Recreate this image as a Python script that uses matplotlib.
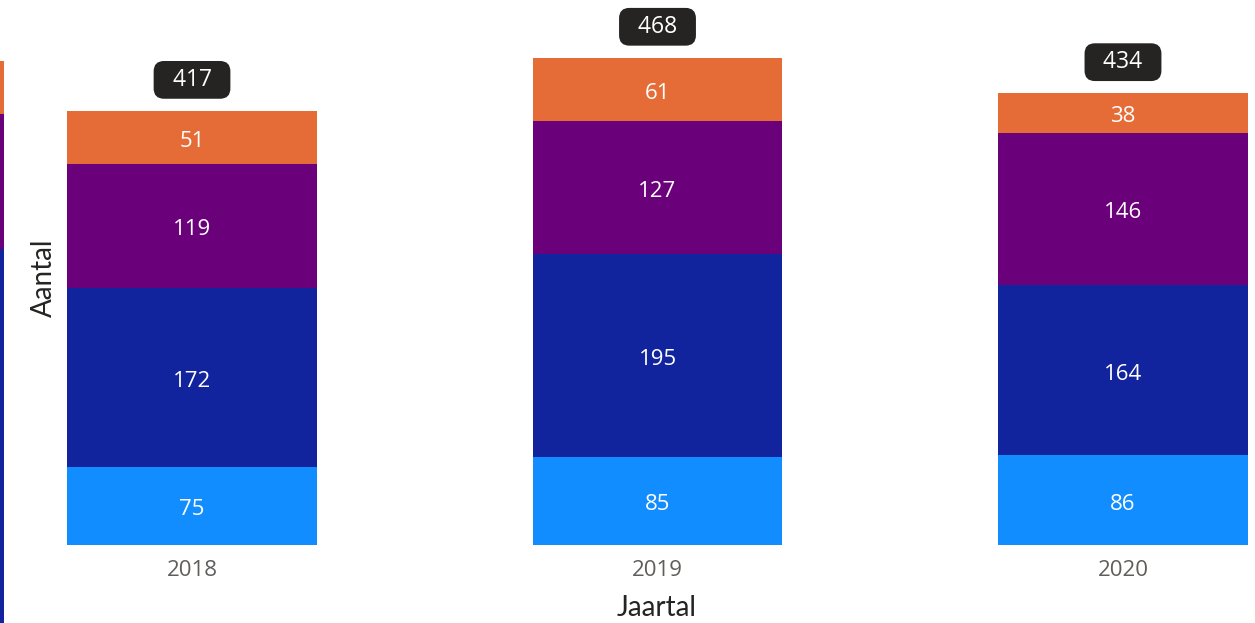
import matplotlib.pyplot as plt
import numpy as np

years = ["2018", "2019", "2020"]
light_blue = [75, 85, 86]
dark_blue = [172, 195, 164]
purple = [119, 127, 146]
orange = [51, 61, 38]
totals = [417, 468, 434]

# clipped bar visible at the left edge of the screenshot
edge_values = [359, 130, 51]
edge_start = -75

colors = ["#118DFF", "#12239E", "#6B007B", "#E66C37"]
series = [light_blue, dark_blue, purple, orange]

plt.rcParams["font.family"] = ["Open Sans", "DejaVu Sans"]

fig = plt.figure(figsize=(12.55, 6.23), dpi=100)
ax = fig.add_axes([0, 78 / 623, 1, 545 / 623])

x = np.arange(len(years))
bottom = np.zeros(len(years))
for vals, col in zip(series, colors):
    ax.bar(x, vals, 0.535, bottom=bottom, color=col)
    for xi, b, v in zip(x, bottom, vals):
        ax.annotate(str(v), (xi, b + v / 2), xytext=(0, -4), textcoords="offset pixels",
                    ha="center", va="center", color="white", fontsize=16)
    bottom += np.array(vals)

for xi, t in zip(x, totals):
    ax.annotate(f"  {t}  ", (xi, t), xytext=(0, 31), textcoords="offset pixels",
                ha="center", va="center", color="white", fontsize=16.5,
                bbox=dict(boxstyle="round,pad=0.3,rounding_size=0.45", fc="#252423", ec="none"))

ax.set_xlim(-0.4125, 2.2836)
ax.set_ylim(0, 523.5)
ax.set_xticks(x)
ax.set_xticklabels(years, fontsize=16, color="#605E5C")
ax.tick_params(axis="x", length=0, pad=11)
ax.set_yticks([])
for s in ax.spines.values():
    s.set_visible(False)

ax.set_ylabel("Aantal", fontsize=20, color="#252423", family=["Lato", "DejaVu Sans"])
ax.yaxis.set_label_coords(57 / 1255, 0.49)
ax.set_xlabel("Jaartal", fontsize=20, color="#252423", family=["Lato", "DejaVu Sans"])
ax.xaxis.set_label_coords(657 / 1255, -50 / 545)

# thin strip at the left edge
ax_edge = fig.add_axes([0, 0, 4 / 1255, 1])
eb = edge_start
for v, col in zip(edge_values, colors[1:]):
    ax_edge.bar(0, v, 1, bottom=eb, color=col)
    eb += v
ax_edge.set_xlim(-0.5, 0.5)
ax_edge.set_ylim(-74.9, 523.5)
ax_edge.axis("off")

fig.savefig("out.png", dpi=100)
